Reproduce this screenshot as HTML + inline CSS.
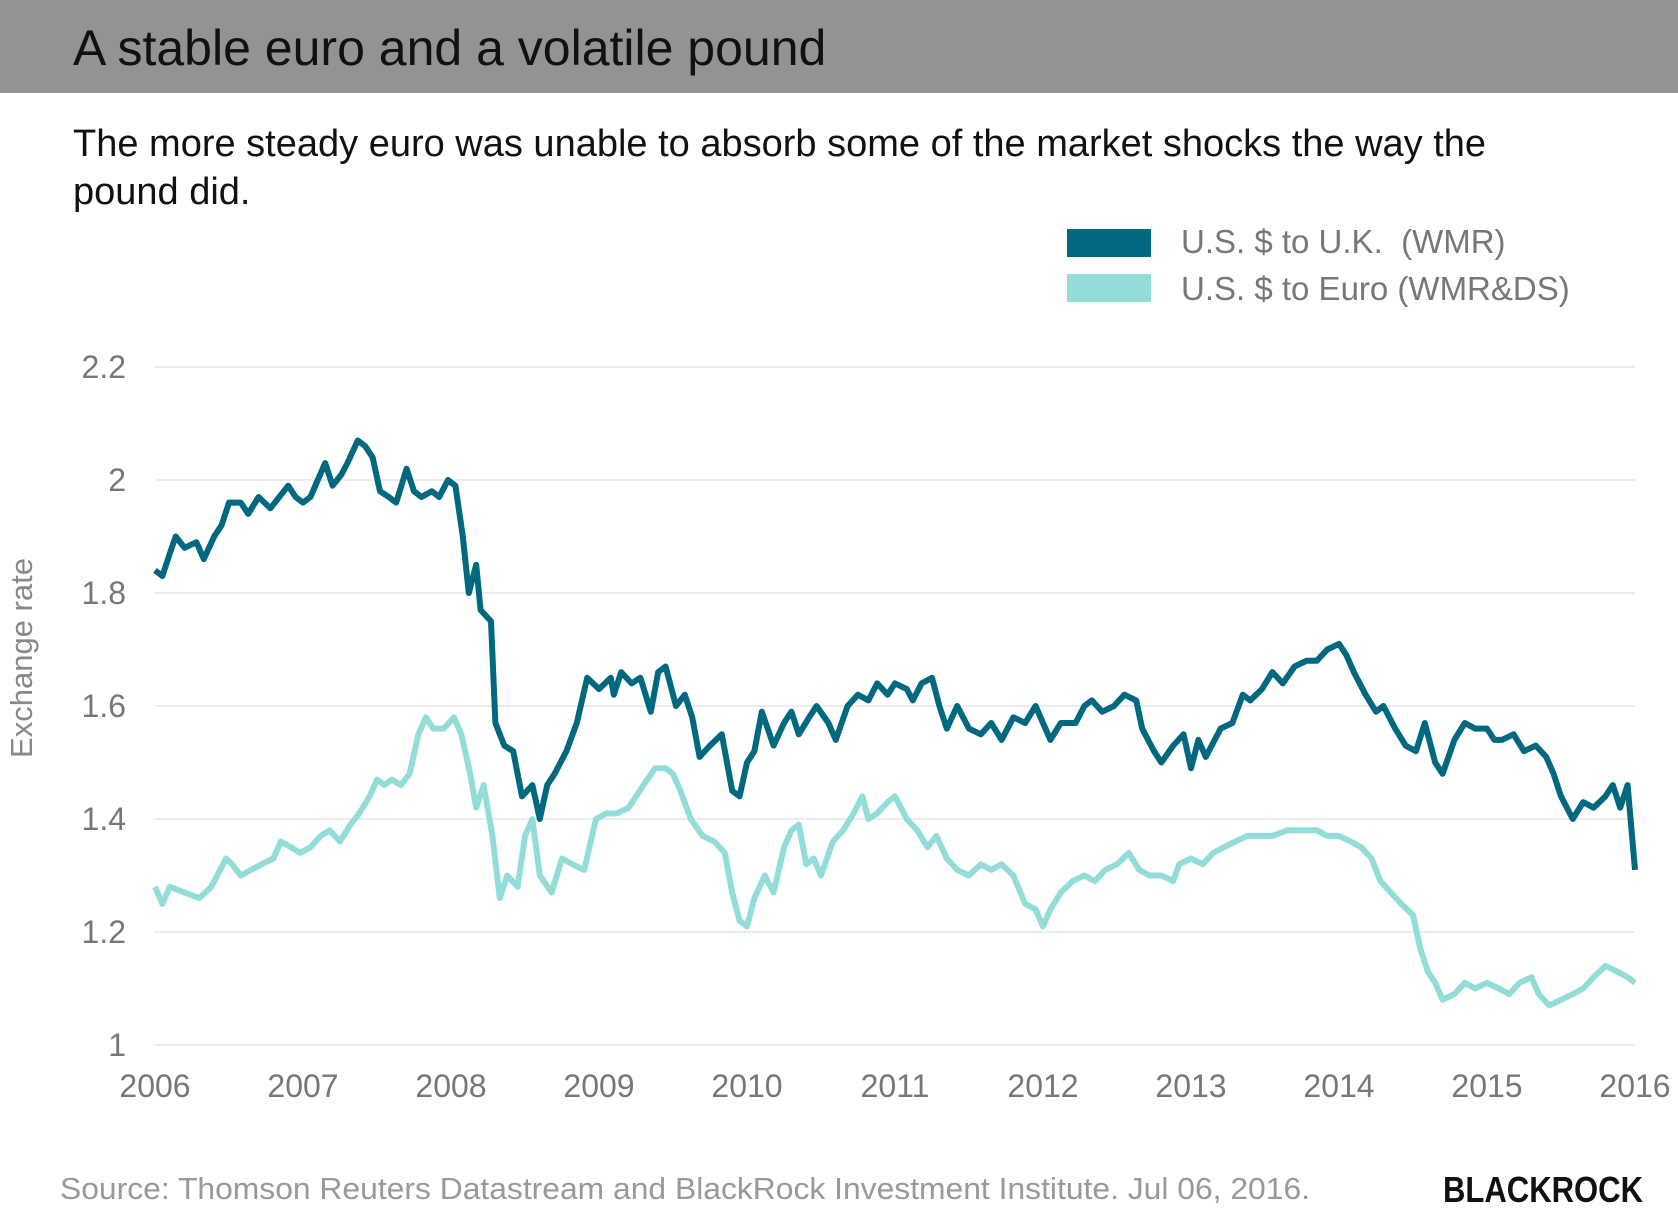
<!DOCTYPE html>
<html><head><meta charset="utf-8">
<style>
html,body{margin:0;padding:0;background:#fff;}
body{width:1678px;height:1231px;position:relative;overflow:hidden;font-family:"Liberation Sans",sans-serif;}
#header{position:absolute;left:0;top:0;width:1678px;height:93px;background:#939393;}
#title{position:absolute;left:73px;top:19px;font-size:50px;color:#111;}
#subtitle{position:absolute;left:73px;top:120px;width:1470px;font-size:38px;line-height:48px;color:#111;}
svg{position:absolute;left:0;top:0;}
</style></head>
<body>
<div id="header"></div>
<div id="title">A stable euro and a volatile pound</div>
<div id="subtitle">The more steady euro was unable to absorb some of the market shocks the way the pound did.</div>
<svg id="chart" width="1678" height="1231"></svg>
<script>
const gbpDates=[2006.00,2006.05,2006.10,2006.14,2006.20,2006.28,2006.33,2006.40,2006.45,2006.50,2006.58,2006.63,2006.70,2006.78,2006.84,2006.90,2006.95,2007.00,2007.05,2007.10,2007.15,2007.20,2007.26,2007.30,2007.37,2007.42,2007.47,2007.52,2007.58,2007.63,2007.70,2007.75,2007.80,2007.87,2007.92,2007.98,2008.03,2008.08,2008.12,2008.17,2008.20,2008.27,2008.30,2008.36,2008.42,2008.48,2008.55,2008.60,2008.65,2008.70,2008.78,2008.85,2008.92,2009.00,2009.08,2009.10,2009.15,2009.22,2009.28,2009.35,2009.40,2009.45,2009.52,2009.58,2009.63,2009.68,2009.75,2009.83,2009.90,2009.95,2010.00,2010.05,2010.10,2010.18,2010.25,2010.30,2010.35,2010.42,2010.47,2010.55,2010.60,2010.68,2010.75,2010.82,2010.88,2010.95,2011.00,2011.08,2011.12,2011.18,2011.25,2011.30,2011.35,2011.42,2011.50,2011.58,2011.65,2011.72,2011.80,2011.88,2011.95,2012.00,2012.05,2012.12,2012.22,2012.28,2012.33,2012.40,2012.48,2012.55,2012.63,2012.67,2012.75,2012.80,2012.88,2012.95,2013.00,2013.05,2013.10,2013.20,2013.28,2013.35,2013.40,2013.48,2013.55,2013.62,2013.70,2013.78,2013.85,2013.92,2014.00,2014.05,2014.10,2014.18,2014.25,2014.30,2014.38,2014.45,2014.52,2014.58,2014.65,2014.70,2014.78,2014.85,2014.92,2015.00,2015.05,2015.10,2015.18,2015.25,2015.33,2015.40,2015.45,2015.50,2015.58,2015.65,2015.72,2015.80,2015.85,2015.90,2015.95,2016.00];
const gbpValues=[1.84,1.83,1.87,1.90,1.88,1.89,1.86,1.90,1.92,1.96,1.96,1.94,1.97,1.95,1.97,1.99,1.97,1.96,1.97,2.00,2.03,1.99,2.01,2.03,2.07,2.06,2.04,1.98,1.97,1.96,2.02,1.98,1.97,1.98,1.97,2.00,1.99,1.90,1.80,1.85,1.77,1.75,1.57,1.53,1.52,1.44,1.46,1.40,1.46,1.48,1.52,1.57,1.65,1.63,1.65,1.62,1.66,1.64,1.65,1.59,1.66,1.67,1.60,1.62,1.58,1.51,1.53,1.55,1.45,1.44,1.50,1.52,1.59,1.53,1.57,1.59,1.55,1.58,1.60,1.57,1.54,1.60,1.62,1.61,1.64,1.62,1.64,1.63,1.61,1.64,1.65,1.60,1.56,1.60,1.56,1.55,1.57,1.54,1.58,1.57,1.60,1.57,1.54,1.57,1.57,1.60,1.61,1.59,1.60,1.62,1.61,1.56,1.52,1.50,1.53,1.55,1.49,1.54,1.51,1.56,1.57,1.62,1.61,1.63,1.66,1.64,1.67,1.68,1.68,1.70,1.71,1.69,1.66,1.62,1.59,1.60,1.56,1.53,1.52,1.57,1.50,1.48,1.54,1.57,1.56,1.56,1.54,1.54,1.55,1.52,1.53,1.51,1.48,1.44,1.40,1.43,1.42,1.44,1.46,1.42,1.46,1.31];
const eurDates=[2006.00,2006.05,2006.10,2006.20,2006.30,2006.38,2006.42,2006.48,2006.52,2006.58,2006.65,2006.72,2006.80,2006.85,2006.92,2006.98,2007.05,2007.12,2007.18,2007.25,2007.32,2007.38,2007.45,2007.50,2007.55,2007.60,2007.66,2007.72,2007.78,2007.83,2007.88,2007.95,2008.02,2008.07,2008.13,2008.17,2008.22,2008.28,2008.33,2008.38,2008.45,2008.50,2008.55,2008.60,2008.68,2008.75,2008.82,2008.90,2008.98,2009.05,2009.12,2009.20,2009.30,2009.38,2009.45,2009.50,2009.55,2009.62,2009.70,2009.78,2009.85,2009.90,2009.95,2010.00,2010.05,2010.12,2010.18,2010.25,2010.30,2010.35,2010.40,2010.45,2010.50,2010.58,2010.65,2010.72,2010.78,2010.82,2010.88,2010.95,2011.00,2011.08,2011.15,2011.22,2011.28,2011.35,2011.42,2011.50,2011.58,2011.65,2011.72,2011.80,2011.88,2011.95,2012.00,2012.05,2012.12,2012.20,2012.28,2012.35,2012.42,2012.50,2012.58,2012.65,2012.72,2012.80,2012.88,2012.92,2013.00,2013.08,2013.15,2013.22,2013.30,2013.38,2013.45,2013.55,2013.65,2013.75,2013.85,2013.92,2014.00,2014.08,2014.15,2014.22,2014.28,2014.35,2014.42,2014.50,2014.55,2014.60,2014.65,2014.70,2014.78,2014.85,2014.92,2015.00,2015.08,2015.15,2015.22,2015.30,2015.35,2015.42,2015.50,2015.58,2015.65,2015.72,2015.80,2015.88,2015.95,2016.00];
const eurValues=[1.28,1.25,1.28,1.27,1.26,1.28,1.30,1.33,1.32,1.30,1.31,1.32,1.33,1.36,1.35,1.34,1.35,1.37,1.38,1.36,1.39,1.41,1.44,1.47,1.46,1.47,1.46,1.48,1.55,1.58,1.56,1.56,1.58,1.55,1.48,1.42,1.46,1.37,1.26,1.30,1.28,1.37,1.40,1.30,1.27,1.33,1.32,1.31,1.40,1.41,1.41,1.42,1.46,1.49,1.49,1.48,1.45,1.40,1.37,1.36,1.34,1.27,1.22,1.21,1.26,1.30,1.27,1.35,1.38,1.39,1.32,1.33,1.30,1.36,1.38,1.41,1.44,1.40,1.41,1.43,1.44,1.40,1.38,1.35,1.37,1.33,1.31,1.30,1.32,1.31,1.32,1.30,1.25,1.24,1.21,1.24,1.27,1.29,1.30,1.29,1.31,1.32,1.34,1.31,1.30,1.30,1.29,1.32,1.33,1.32,1.34,1.35,1.36,1.37,1.37,1.37,1.38,1.38,1.38,1.37,1.37,1.36,1.35,1.33,1.29,1.27,1.25,1.23,1.17,1.13,1.11,1.08,1.09,1.11,1.10,1.11,1.10,1.09,1.11,1.12,1.09,1.07,1.08,1.09,1.10,1.12,1.14,1.13,1.12,1.11];
const yTicks=[1,1.2,1.4,1.6,1.8,2,2.2];
const yTickLabels=["1","1.2","1.4","1.6","1.8","2","2.2"];
const xTicks=[2006,2007,2008,2009,2010,2011,2012,2013,2014,2015,2016];
const legendLabels=["U.S. $ to U.K.\u00a0\u00a0(WMR)","U.S. $ to Euro (WMR&DS)"];

const NS="http://www.w3.org/2000/svg";
const svg=document.getElementById('chart');
const X0=155,X1=1635,Y0=1045,Y1=367;
const xs=d=>X0+(d-2006)/(2016-2006)*(X1-X0);
const ys=v=>Y0-(v-1)/(2.2-1)*(Y0-Y1);
function mk(tag,attrs,txt){const e=document.createElementNS(NS,tag);for(const k in attrs)e.setAttribute(k,attrs[k]);if(txt!==undefined)e.textContent=txt;svg.appendChild(e);return e;}

yTicks.forEach((t,i)=>{
  const g=mk('line',{x1:X0,x2:X1,y1:ys(t),y2:ys(t),stroke:'#ececec','stroke-width':2});
  
  
  const l=mk('text',{x:126,y:ys(t)+11,'text-anchor':'end','font-size':32,fill:'#777','font-family':'Liberation Sans, sans-serif'},yTickLabels[i]);
  
  
});
xTicks.forEach(t=>{
  const l=mk('text',{x:xs(t),y:1097,'text-anchor':'middle','font-size':32,fill:'#777','font-family':'Liberation Sans, sans-serif'},String(t));
  
  
});
const yt=mk('text',{x:0,y:0,transform:'translate(32,658) rotate(-90)','text-anchor':'middle','font-size':31,fill:'#888','font-family':'Liberation Sans, sans-serif'},'Exchange rate');



function series(dates,vals,color,name){
  const d=dates.map((t,i)=>(i?'L':'M')+xs(t).toFixed(1)+','+ys(vals[i]).toFixed(1)).join(' ');
  const p=mk('path',{d:d,fill:'none',stroke:color,'stroke-width':6,'stroke-linejoin':'round'});
  
  
}
series(eurDates,eurValues,'#93ddd9','euro-line');
series(gbpDates,gbpValues,'#00687f','pound-line');

const colors=['#00687f','#93ddd9'];
legendLabels.forEach((lab,i)=>{
  const r=mk('rect',{x:1067,y:229+i*45,width:84,height:28,fill:colors[i]});
  
  
  const t=mk('text',{x:1181,y:253+i*47,'font-size':33,fill:'#777','font-family':'Liberation Sans, sans-serif'},lab);
  
  
});
const src=mk('text',{x:60,y:1199,'font-size':31,fill:'#999','font-family':'Liberation Sans, sans-serif',textLength:1250,lengthAdjust:'spacingAndGlyphs'},'Source: Thomson Reuters Datastream and BlackRock Investment Institute. Jul 06, 2016.');


const br=mk('text',{x:1443,y:1202,'font-size':36,'font-weight':'bold',fill:'#111','font-family':'Liberation Sans, sans-serif',textLength:200,lengthAdjust:'spacingAndGlyphs'},'BLACKROCK');


</script>
</body></html>
